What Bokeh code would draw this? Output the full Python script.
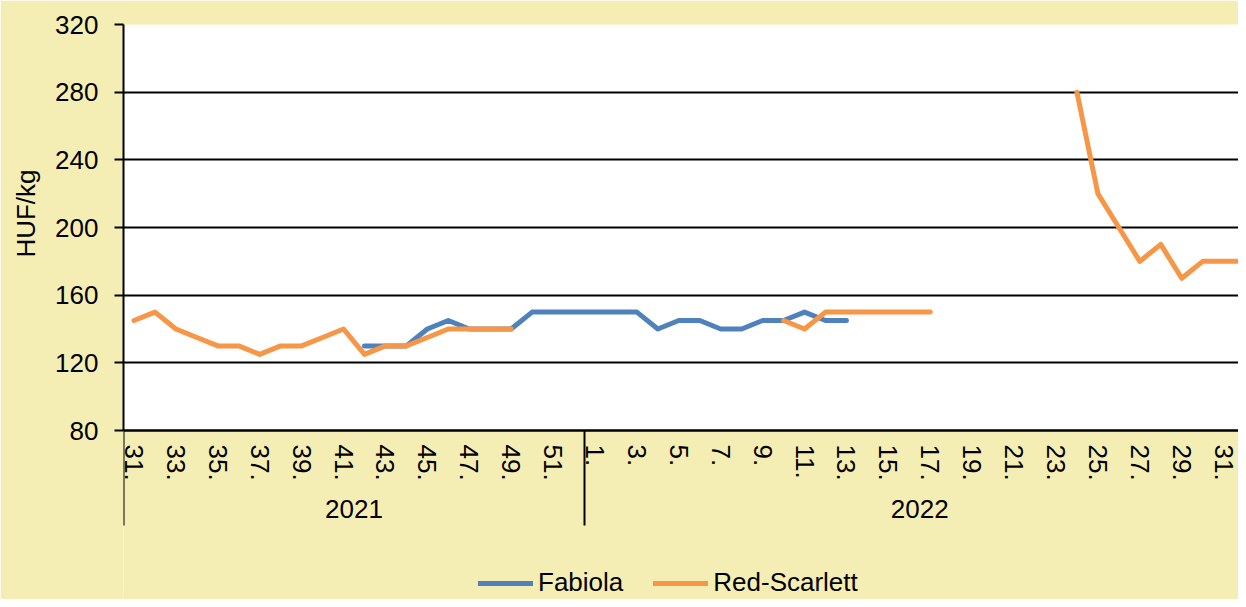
import numpy as np
from bokeh.plotting import figure
from bokeh.models import (Range1d, FixedTicker, LinearAxis, CustomJSTickFormatter,
                          BoxAnnotation, Title)
from bokeh.embed import file_html
from bokeh.resources import INLINE

nan = float("nan")

# Categories: weeks 31-52 of 2021, weeks 1-32 of 2022
weeks_2021 = list(range(31, 53))
weeks_2022 = list(range(1, 33))
week_labels = [f"{w}." for w in weeks_2021] + [f"{w}." for w in weeks_2022]
year_labels = ["2021", "2022"]

fabiola = ([nan] * 11 +
           [130, 130, 130, 140, 145, 140, 140, 140, 150, 150, 150] +
           [150, 150, 150, 140, 145, 145, 140, 140, 145, 145, 150, 145, 145] +
           [nan] * 19)

red_scarlett = ([145, 150, 140, 135, 130, 130, 125, 130, 130, 135, 140,
                 125, 130, 130, 135, 140, 140, 140, 140] +
                [nan] * 3 +
                [nan] * 9 + [145, 140] + [150] * 6 + [nan] * 6 +
                [280, 220, 200, 180, 190, 170, 180, 180, 180])

y_ticks = [80, 120, 160, 200, 240, 280, 320]
y_min, y_max = 80, 320

BG = "#F5EEB4"
FONT = "Liberation Sans"
FS = "26px"

x = np.arange(len(week_labels))
n2021 = len(weeks_2021)

p = figure(width=1238, height=599, output_backend="svg", toolbar_location=None,
           x_axis_location=None,
           x_range=Range1d(-0.5, 52.71), y_range=Range1d(-19.9, y_max),
           min_border_left=123, min_border_right=0, min_border_top=24,
           min_border_bottom=0)
p.background_fill_color = BG
p.border_fill_color = BG
p.outline_line_color = None

# white plot area
p.add_layout(BoxAnnotation(bottom=y_min, top=y_max, fill_color="white",
                           fill_alpha=1, line_color=None, level="image"))

# y axis
yt = FixedTicker(ticks=y_ticks)
p.yaxis.ticker = yt
p.yaxis.bounds = (y_min, y_max)
p.yaxis.axis_line_color = "black"
p.yaxis.axis_line_width = 2
p.yaxis.major_tick_line_color = "black"
p.yaxis.major_tick_line_width = 2
p.yaxis.major_tick_out = 9
p.yaxis.major_tick_in = 0
p.yaxis.minor_tick_line_color = None
p.yaxis.major_label_text_font = FONT
p.yaxis.major_label_text_font_size = FS
p.yaxis.major_label_text_color = "black"
p.yaxis.major_label_standoff = 16

# y axis title (placed beside the value range, not the whole frame)
p.add_layout(Title(text="HUF/kg", align="right", offset=145, vertical_align="top",
                   standoff=20, text_font=FONT, text_font_size=FS,
                   text_font_style="normal", text_color="black"), "left")

p.ygrid.ticker = yt
p.ygrid.grid_line_color = "black"
p.ygrid.grid_line_width = 2
for g in p.xgrid:
    g.visible = False

# week axis (minor ticks draw the group separators)
even_idx = list(range(0, len(week_labels), 2))
wk_ticker = FixedTicker(ticks=even_idx, minor_ticks=[-0.5, n2021 - 0.5])
wk_axis = LinearAxis(ticker=wk_ticker, fixed_location=y_min)
wk_axis.major_label_overrides = {int(i): week_labels[i] for i in even_idx}
wk_axis.major_label_orientation = "vertical"
wk_axis.major_tick_line_color = None
wk_axis.major_tick_out = 0
wk_axis.major_tick_in = 0
wk_axis.minor_tick_line_color = "black"
wk_axis.minor_tick_line_width = 2
wk_axis.minor_tick_out = 95
wk_axis.minor_tick_in = 0
wk_axis.axis_line_color = "black"
wk_axis.axis_line_width = 2
wk_axis.major_label_text_font = FONT
wk_axis.major_label_text_font_size = FS
wk_axis.major_label_text_color = "black"
wk_axis.major_label_standoff = -81
p.add_layout(wk_axis, "below")

# year axis
yr_pos = [(n2021 - 1) / 2, n2021 - 0.5 + len(weeks_2022) / 2]
yr_axis = LinearAxis(ticker=FixedTicker(ticks=yr_pos, minor_ticks=[]),
                     fixed_location=y_min)
yr_axis.formatter = CustomJSTickFormatter(
    args=dict(labels=year_labels, split=n2021 - 0.5),
    code="return tick < split ? labels[0] : labels[1];")
yr_axis.axis_line_color = None
yr_axis.major_tick_line_color = None
yr_axis.minor_tick_line_color = None
yr_axis.major_tick_out = 0
yr_axis.major_tick_in = 0
yr_axis.major_label_text_font = FONT
yr_axis.major_label_text_font_size = FS
yr_axis.major_label_text_color = "black"
yr_axis.major_label_standoff = 69
p.add_layout(yr_axis, "below")

p.line(x, fabiola, line_color="#4F81BD", line_width=5, line_join="round",
       line_cap="round", legend_label="Fabiola")
p.line(x, red_scarlett, line_color="#F79646", line_width=5, line_join="round",
       line_cap="round", legend_label="Red-Scarlett")

lg = p.legend[0]
lg.location = (355, 1)
lg.orientation = "horizontal"
lg.label_text_font = FONT
lg.label_text_font_size = FS
lg.label_text_color = "black"
lg.glyph_width = 55
lg.glyph_height = 20
lg.spacing = 30
lg.label_standoff = 5
lg.padding = 0
lg.margin = 0
lg.border_line_color = None
lg.background_fill_alpha = 0

open("out.html", "w").write(file_html(p, INLINE))
